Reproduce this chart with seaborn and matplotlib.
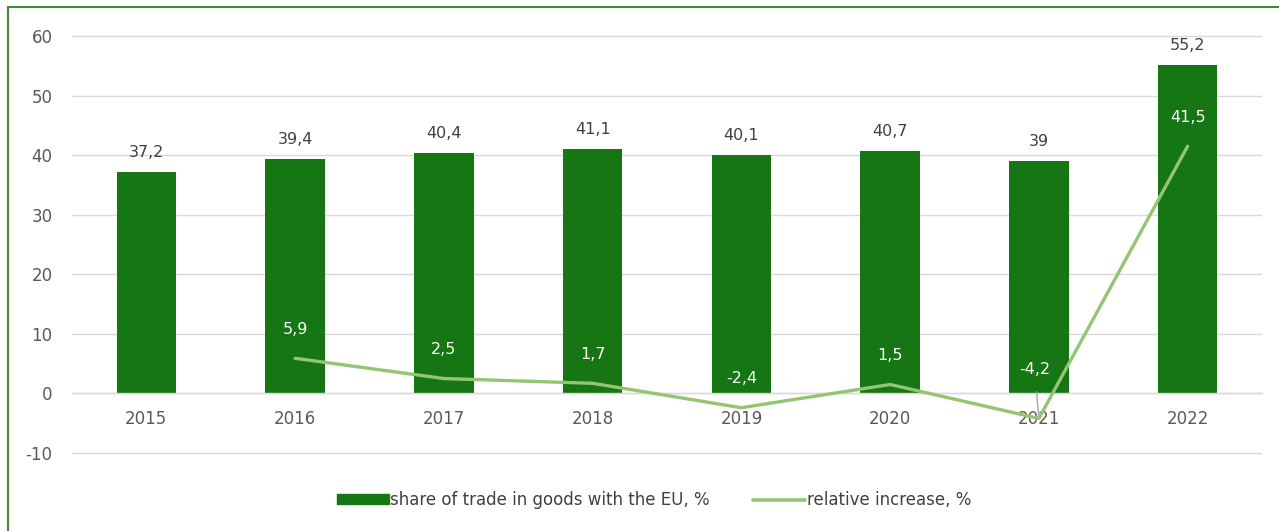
import pandas as pd
import numpy as np
import matplotlib.pyplot as plt
import seaborn as sns
from matplotlib.patches import Rectangle, Patch
from matplotlib.lines import Line2D

years = ["2015", "2016", "2017", "2018", "2019", "2020", "2021", "2022"]
share_eu = [37.2, 39.4, 40.4, 41.1, 40.1, 40.7, 39.0, 55.2]
rel_increase = [np.nan, 5.9, 2.5, 1.7, -2.4, 1.5, -4.2, 41.5]

bar_color = "#157613"
line_color = "#93c572"
text_color = "#404040"
grid_color = "#d9d9d9"

df = pd.DataFrame({"year": years, "share": share_eu, "rel": rel_increase})
df["pos"] = np.arange(len(years))

sns.set_style("white")
plt.rcParams["font.family"] = ["DejaVu Sans"]
plt.rcParams["axes.unicode_minus"] = False

# y range padded a little so the -10 and 60 gridlines are not clipped
ymin, ymax = -10.3, 60.3
ppu = 417 / 70
fig = plt.figure(figsize=(12.79, 5.31), dpi=100)
top_px = 36 - 0.3 * ppu
bot_px = 453 + 0.3 * ppu
ax = fig.add_axes([72 / 1279, 1 - bot_px / 531, 1190 / 1279, (bot_px - top_px) / 531])

sns.barplot(data=df, x="pos", y="share", color=bar_color, width=0.4,
            saturation=1, linewidth=0, ax=ax, zorder=2)
sns.lineplot(data=df, x="pos", y="rel", color=line_color, linewidth=2.4,
             ax=ax, zorder=3)

ax.set_xlim(-0.5, len(years) - 0.5)
ax.set_ylim(ymin, ymax)
ax.set_yticks(range(-10, 61, 10))
ax.yaxis.grid(True, color=grid_color, linewidth=1)
ax.set_axisbelow(True)
ax.set_xlabel("")
ax.set_ylabel("")

for side in ["top", "right", "left"]:
    ax.spines[side].set_visible(False)
ax.spines["bottom"].set_position(("data", 0))
ax.spines["bottom"].set_color(grid_color)
ax.spines["bottom"].set_linewidth(1)
ax.set_xticks(df["pos"])
ax.set_xticklabels(years)
ax.tick_params(axis="x", length=0, pad=12, labelsize=12, colors="#595959")
ax.tick_params(axis="y", length=0, pad=14, labelsize=12, colors="#595959")

# bar labels
for p, v in zip(df["pos"], df["share"]):
    lab = f"{v:g}".replace(".", ",")
    ax.annotate(lab, (p, v), xytext=(0, 14), textcoords="offset points",
                ha="center", va="center", fontsize=11.5, color=text_color)

# line labels
for p, v in zip(df["pos"], df["rel"]):
    if np.isnan(v):
        continue
    lab = f"{v:g}".replace(".", ",")
    if years[p] == "2021":
        ax.annotate(lab, (p, v), xytext=(-3, 35), textcoords="offset points",
                    ha="center", va="center", fontsize=11.5, color="white",
                    arrowprops=dict(arrowstyle="-", color="#a6a6a6", lw=1,
                                    shrinkA=8, shrinkB=1))
    else:
        ax.annotate(lab, (p, v), xytext=(0, 21), textcoords="offset points",
                    ha="center", va="center", fontsize=11.5, color="white")

handles = [Patch(facecolor=bar_color, edgecolor=bar_color),
           Line2D([0], [0], color=line_color, linewidth=2.6)]
labels = ["share of trade in goods with the EU, %", "relative increase, %"]
leg = fig.legend(handles, labels, loc="center", ncol=2, frameon=False,
                 bbox_to_anchor=(654 / 1279, 1 - 500 / 531), fontsize=12,
                 handlelength=3.1, handleheight=0.55, handletextpad=0.1,
                 columnspacing=2.6)
for t in leg.get_texts():
    t.set_color(text_color)

fig.patches.append(Rectangle((8 / 1279, -0.05), 1.2, 1 - 7 / 531 + 0.05,
                             transform=fig.transFigure, fill=False,
                             edgecolor="#3e8e31", linewidth=1.5))

fig.savefig("out.png", dpi=100)
